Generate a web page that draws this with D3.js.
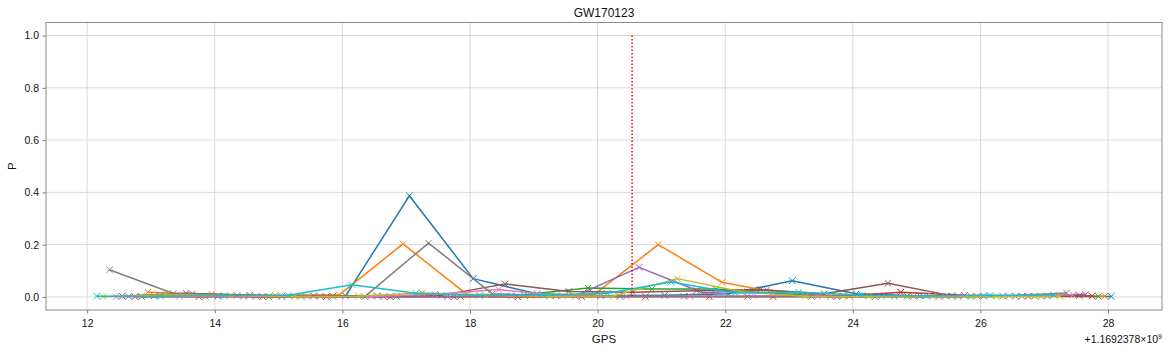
<!DOCTYPE html>
<html>
<head>
<meta charset="utf-8">
<script src="https://cdn.jsdelivr.net/npm/d3@7"></script>
<style>
  body { margin: 0; background: #fff; }
  text { font-family: "Liberation Sans", Arial, sans-serif; fill: #111; }
</style>
</head>
<body>
<svg id="chart"></svg>
<script>
// seconds after 1169237800 (GPS); each series samples once per second
const title = "GW170123";
const offsetLabel = "+1.1692378\u00d710";
const offsetExp = "9";
const eventTime = 20.54;
const xTicks = [12, 14, 16, 18, 20, 22, 24, 26, 28];
const yTicks = [0.0, 0.2, 0.4, 0.6, 0.8, 1.0];

const t0 = [13.05, 14.05, 15.05, 16.05, 17.05, 18.05, 19.05, 20.05, 21.05, 22.05, 23.05, 24.05, 25.05, 26.05, 27.05, 28.05];
const t1 = [12.95, 13.95, 14.95, 15.95, 16.95, 17.95, 18.95, 19.95, 20.95, 21.95, 22.95, 23.95, 24.95, 25.95, 26.95, 27.95];
const t2 = [12.85, 13.85, 14.85, 15.85, 16.85, 17.85, 18.85, 19.85, 20.85, 21.85, 22.85, 23.85, 24.85, 25.85, 26.85, 27.85];
const t3 = [12.75, 13.75, 14.75, 15.75, 16.75, 17.75, 18.75, 19.75, 20.75, 21.75, 22.75, 23.75, 24.75, 25.75, 26.75, 27.75];
const t4 = [12.65, 13.65, 14.65, 15.65, 16.65, 17.65, 18.65, 19.65, 20.65, 21.65, 22.65, 23.65, 24.65, 25.65, 26.65, 27.65];
const t5 = [12.55, 13.55, 14.55, 15.55, 16.55, 17.55, 18.55, 19.55, 20.55, 21.55, 22.55, 23.55, 24.55, 25.55, 26.55, 27.55];
const t6 = [12.45, 13.45, 14.45, 15.45, 16.45, 17.45, 18.45, 19.45, 20.45, 21.45, 22.45, 23.45, 24.45, 25.45, 26.45, 27.45];
const t7 = [12.35, 13.35, 14.35, 15.35, 16.35, 17.35, 18.35, 19.35, 20.35, 21.35, 22.35, 23.35, 24.35, 25.35, 26.35, 27.35];
const t8 = [12.25, 13.25, 14.25, 15.25, 16.25, 17.25, 18.25, 19.25, 20.25, 21.25, 22.25, 23.25, 24.25, 25.25, 26.25, 27.25];
const t9 = [12.15, 13.15, 14.15, 15.15, 16.15, 17.15, 18.15, 19.15, 20.15, 21.15, 22.15, 23.15, 24.15, 25.15, 26.15, 27.15];

const p0 = [0.004, 0.003, 0.002, 0.004, 0.387, 0.070, 0.012, 0.005, 0.006, 0.012, 0.062, 0.012, 0.004, 0.003, 0.004, 0.002];
const p1 = [0.018, 0.010, 0.006, 0.008, 0.203, 0.010, 0.006, 0.010, 0.200, 0.056, 0.010, 0.002, 0.002, 0.003, 0.002, 0.003];
const p2 = [0.002, 0.002, 0.001, 0.003, 0.002, 0.002, 0.008, 0.034, 0.030, 0.030, 0.012, 0.004, 0.003, 0.002, 0.003, 0.002];
const p3 = [0.001, 0.001, 0.001, 0.001, 0.001, 0.001, 0.000, 0.001, 0.001, 0.001, 0.001, 0.002, 0.018, 0.006, 0.003, 0.004];
const p4 = [0.002, 0.012, 0.002, 0.002, 0.001, 0.002, 0.004, 0.003, 0.113, 0.016, 0.027, 0.002, 0.002, 0.002, 0.003, 0.010];
const p5 = [0.003, 0.014, 0.006, 0.004, 0.004, 0.006, 0.050, 0.021, 0.018, 0.024, 0.028, 0.012, 0.052, 0.004, 0.003, 0.005];
const p6 = [0.001, 0.002, 0.002, 0.001, 0.002, 0.010, 0.028, 0.004, 0.002, 0.003, 0.005, 0.002, 0.002, 0.002, 0.004, 0.008];
const p7 = [0.104, 0.013, 0.006, 0.003, 0.001, 0.206, 0.012, 0.004, 0.002, 0.003, 0.002, 0.002, 0.001, 0.002, 0.003, 0.015];
const p8 = [0.001, 0.008, 0.005, 0.002, 0.003, 0.015, 0.006, 0.003, 0.004, 0.070, 0.020, 0.003, 0.002, 0.002, 0.002, 0.003];
const p9 = [0.003, 0.003, 0.005, 0.006, 0.047, 0.014, 0.006, 0.006, 0.014, 0.057, 0.015, 0.018, 0.006, 0.004, 0.006, 0.008];

const times = [t0, t1, t2, t3, t4, t5, t6, t7, t8, t9];
const probs = [p0, p1, p2, p3, p4, p5, p6, p7, p8, p9];
const colors = d3.schemeCategory10;

const margin = { top: 22.5, right: 11, bottom: 43, left: 46 };
const totalWidth = 1173;
const totalHeight = 353;
const width = totalWidth - margin.left - margin.right;
const height = totalHeight - margin.top - margin.bottom;

const series = times.map((t, i) => t.map((x, j) => ({ x: x, y: probs[i][j] })));

const allX = times.flat();
const xPad = (d3.max(allX) - d3.min(allX)) * 0.05;
const xScale = d3
  .scaleLinear()
  .domain([d3.min(allX) - xPad, d3.max(allX) + xPad])
  .range([0, width]);

const yScale = d3
  .scaleLinear()
  .domain([-0.05, 1.05])
  .range([height, 0]);

const svg = d3
  .select("#chart")
  .attr("width", totalWidth)
  .attr("height", totalHeight)
  .append("g")
  .attr("transform", "translate(" + margin.left + "," + margin.top + ")");

// grid
svg
  .append("g")
  .selectAll("line")
  .data(xTicks)
  .enter()
  .append("line")
  .attr("x1", d => xScale(d))
  .attr("x2", d => xScale(d))
  .attr("y1", 0)
  .attr("y2", height)
  .attr("stroke", "#cfcfcf")
  .attr("stroke-width", 0.8);

svg
  .append("g")
  .selectAll("line")
  .data(yTicks)
  .enter()
  .append("line")
  .attr("x1", 0)
  .attr("x2", width)
  .attr("y1", d => yScale(d))
  .attr("y2", d => yScale(d))
  .attr("stroke", "#cfcfcf")
  .attr("stroke-width", 0.8);

// axes
const xAxis = svg
  .append("g")
  .attr("transform", "translate(0," + height + ")")
  .call(d3.axisBottom(xScale).tickValues(xTicks).tickFormat(d3.format("d")).tickSize(3.5).tickPadding(6));

const yAxis = svg
  .append("g")
  .call(d3.axisLeft(yScale).tickValues(yTicks).tickFormat(d3.format(".1f")).tickSize(3.5).tickPadding(3.5));

[xAxis, yAxis].forEach(a => {
  a.select(".domain").remove();
  a.selectAll("line").attr("stroke", "#555").attr("stroke-width", 0.8);
  a.selectAll("text").style("font-size", "10.5px").attr("fill", "#111");
});

// lines + x markers
const line = d3
  .line()
  .x(d => xScale(d.x))
  .y(d => yScale(d.y));

const plot = svg.append("g");

series.forEach((s, i) => {
  plot
    .append("path")
    .datum(s)
    .attr("fill", "none")
    .attr("stroke", colors[i])
    .attr("stroke-width", 1.5)
    .attr("stroke-linejoin", "round")
    .attr("d", line);

  const m = 3.2;
  plot
    .append("g")
    .selectAll("path")
    .data(s)
    .enter()
    .append("path")
    .attr("transform", d => "translate(" + xScale(d.x) + "," + yScale(d.y) + ")")
    .attr("d", `M${-m},${-m}L${m},${m}M${-m},${m}L${m},${-m}`)
    .attr("stroke", colors[i])
    .attr("stroke-width", 1)
    .attr("fill", "none");
});

// event marker
svg
  .append("line")
  .attr("x1", xScale(eventTime))
  .attr("x2", xScale(eventTime))
  .attr("y1", yScale(1))
  .attr("y2", yScale(0))
  .attr("stroke", "red")
  .attr("stroke-width", 1.5)
  .attr("stroke-dasharray", "1.5,2");

// frame
svg
  .append("rect")
  .attr("width", width)
  .attr("height", height)
  .attr("fill", "none")
  .attr("stroke", "#8c8c8c")
  .attr("stroke-width", 1);

// labels
svg
  .append("text")
  .attr("x", width / 2)
  .attr("y", -6)
  .style("text-anchor", "middle")
  .style("font-size", "12px")
  .text(title);

svg
  .append("text")
  .attr("x", width / 2)
  .attr("y", height + 33)
  .style("text-anchor", "middle")
  .style("font-size", "11.5px")
  .text("GPS");

svg
  .append("text")
  .attr("transform", "rotate(-90)")
  .attr("x", -height / 2)
  .attr("y", -30)
  .style("text-anchor", "middle")
  .style("font-size", "11.5px")
  .text("P");

const off = svg
  .append("text")
  .attr("x", width)
  .attr("y", height + 33)
  .style("text-anchor", "end")
  .style("font-size", "10.5px");
off.append("tspan").text(offsetLabel);
off.append("tspan").attr("dy", -4).style("font-size", "7px").text(offsetExp);
</script>
</body>
</html>
